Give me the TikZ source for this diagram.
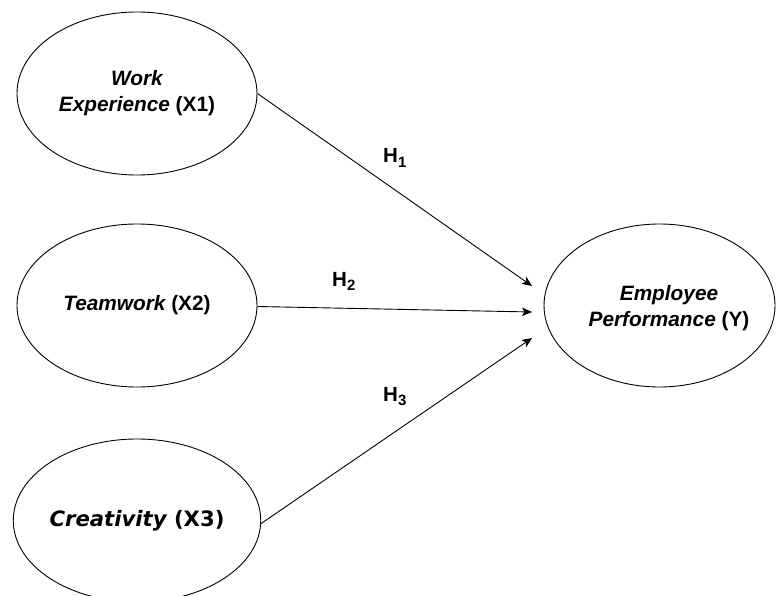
\documentclass[tikz,border=0pt]{standalone}
\usepackage{fontspec}
\setmainfont{Liberation Sans}
\newfontfamily\verdfont{DejaVu Sans}
\usetikzlibrary{shapes.geometric,arrows.meta}
\tikzset{
  construct/.style={draw=black, line width=0.9pt, ellipse, minimum width=240pt, minimum height=163pt, inner sep=0pt, align=center, font=\fontsize{20.8}{26}\selectfont\bfseries},
  path/.style={draw=black, line width=0.9pt, -{Stealth[length=10pt,width=8.5pt,inset=2.5pt]}},
  hlabel/.style={anchor=base west, inner sep=0pt, font=\fontsize{20.5}{24}\selectfont\bfseries}
}
\newcommand{\hsub}[1]{H\raisebox{-4.5pt}{\fontsize{15}{15}\selectfont #1}}
\begin{document}
\begin{tikzpicture}[x=1pt,y=-1pt]
\useasboundingbox (0,0) rectangle (776,596);
\node[construct] (x1) at (137,93.5) {\itshape Work\\\itshape Experience \upshape(X1)};
\node[construct] (x2) at (137,305.5) {\itshape Teamwork \upshape(X2)};
\node[construct, font=\verdfont\fontsize{21.2}{24}\selectfont\bfseries] (x3) at (137,520.5) {\itshape Creativity \upshape(X3)};
\node[construct, minimum width=231pt] (y) at (659.5,305.5) {};
\node[inner sep=0pt, align=center, font=\fontsize{20.8}{26}\selectfont\bfseries] (ytext) at (669,308) {\itshape Employee\\\itshape Performance \upshape(Y)};
\coordinate (t1) at (532,286);
\coordinate (t2) at (532,312);
\coordinate (t3) at (532,338);
\draw[path] (x1.east) -- (t1);
\draw[path] ([yshift=-1pt]x2.east) -- (t2);
\draw[path] ([yshift=-3pt]x3.east) -- (t3);
\node[hlabel] (h1) at (383,163) {\hsub{1}};
\node[hlabel] (h2) at (332,286) {\hsub{2}};
\node[hlabel] (h3) at (383,401) {\hsub{3}};
\end{tikzpicture}
\end{document}
